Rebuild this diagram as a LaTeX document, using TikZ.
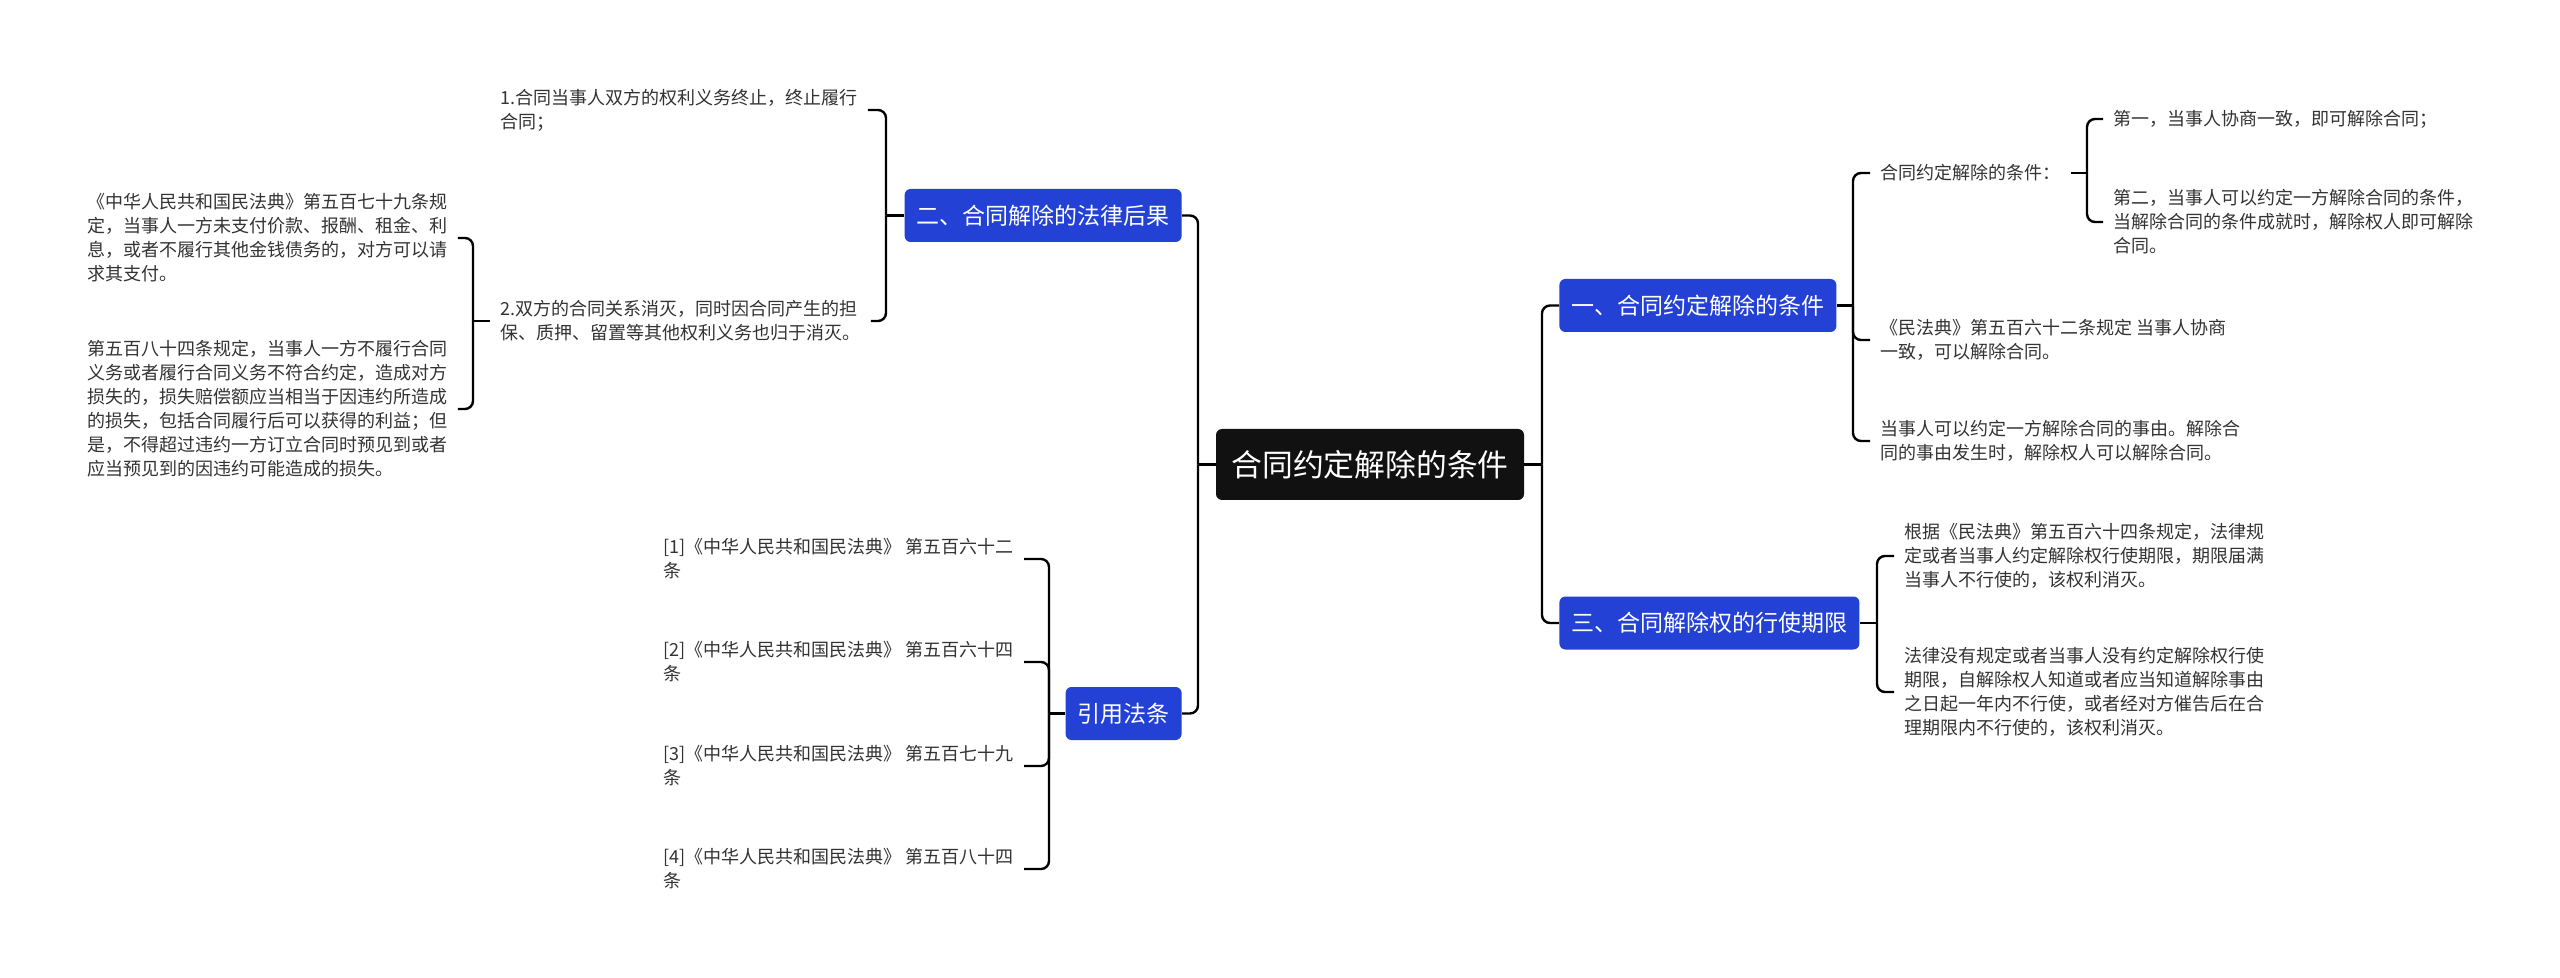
\documentclass[tikz,border=0pt]{standalone}
\usepackage{fontspec}
\setmainfont{Noto Sans CJK SC}
\usepackage{tikz}
\usepackage{xcolor}
\definecolor{boxblue}{HTML}{2441D6}
\definecolor{rootblack}{HTML}{111111}
\definecolor{txtgray}{HTML}{333333}
\tikzset{
  rootbox/.style={fill=rootblack, rounded corners=3pt, text=white, font=\fontsize{15.4}{18}\selectfont, minimum width=154pt, minimum height=35.5pt, inner sep=0pt},
  bluebox/.style={fill=boxblue, rounded corners=3pt, text=white, font=\fontsize{11.5}{14}\selectfont, inner xsep=6pt, inner ysep=0pt, minimum height=26.5pt},
  leaf/.style={text=txtgray, font=\fontsize{9}{12}\selectfont, align=left, inner xsep=5pt, inner ysep=2pt, anchor=west},
  link/.style={line width=1.2pt, black},
  curl/.style={link, rounded corners=4pt}
}

\begin{document}
\begin{tikzpicture}[x=0.5pt, y=-0.5pt]
\useasboundingbox[fill=white] (0,0) rectangle (2560,978);

% Root (node)
\node[rootbox] (root) at (1370,464.5) {合同约定解除的条件};

% Main branches (nodes)
\node[bluebox, anchor=west] (b1) at (1559,305.5) {一、合同约定解除的条件};
\node[bluebox, anchor=west] (b3) at (1559,623) {三、合同解除权的行使期限};
\node[bluebox, anchor=east] (b2) at (1182,215.5) {二、合同解除的法律后果};
\node[bluebox, anchor=east] (b4) at (1182,713.5) {引用法条};

% Junctions of the brackets
\coordinate (jr) at (1542,464.5);
\coordinate (jl) at (1198,464.5);
\coordinate (j1) at (1853,305.5);
\coordinate (j11) at (2087,173);
\coordinate (j3) at (1877,623);
\coordinate (j2) at (886,215.5);
\coordinate (jd) at (473,321);
\coordinate (j4) at (1049,713.5);

% Right side texts
\node[leaf] (c11) at (1870,173) {合同约定解除的条件：};
\node[leaf] (c12) at (1870,340) {《民法典》第五百六十二条规定 当事人协商\\一致，可以解除合同。};
\node[leaf] (c13) at (1870,441) {当事人可以约定一方解除合同的事由。解除合\\同的事由发生时，解除权人可以解除合同。};
\node[leaf] (c111) at (2103,119) {第一，当事人协商一致，即可解除合同；};
\node[leaf] (c112) at (2103,222) {第二，当事人可以约定一方解除合同的条件，\\当解除合同的条件成就时，解除权人即可解除\\合同。};
\node[leaf] (c21) at (1894,556) {根据《民法典》第五百六十四条规定，法律规\\定或者当事人约定解除权行使期限，期限届满\\当事人不行使的，该权利消灭。};
\node[leaf] (c22) at (1894,692) {法律没有规定或者当事人没有约定解除权行使\\期限，自解除权人知道或者应当知道解除事由\\之日起一年内不行使，或者经对方催告后在合\\理期限内不行使的，该权利消灭。};

% Left side texts
\node[leaf] (d1) at (490,110) {1.合同当事人双方的权利义务终止，终止履行\\合同；};
\node[leaf] (d2) at (490,321) {2.双方的合同关系消灭，同时因合同产生的担\\保、质押、留置等其他权利义务也归于消灭。};
\node[leaf] (e1) at (77,238) {《中华人民共和国民法典》第五百七十九条规\\定，当事人一方未支付价款、报酬、租金、利\\息，或者不履行其他金钱债务的，对方可以请\\求其支付。};
\node[leaf] (e2) at (77,409) {第五百八十四条规定，当事人一方不履行合同\\义务或者履行合同义务不符合约定，造成对方\\损失的，损失赔偿额应当相当于因违约所造成\\的损失，包括合同履行后可以获得的利益；但\\是，不得超过违约一方订立合同时预见到或者\\应当预见到的因违约可能造成的损失。};
\node[leaf] (r1) at (653,559) {[1]《中华人民共和国民法典》 第五百六十二\\条};
\node[leaf] (r2) at (653,662) {[2]《中华人民共和国民法典》 第五百六十四\\条};
\node[leaf] (r3) at (653,766) {[3]《中华人民共和国民法典》 第五百七十九\\条};
\node[leaf] (r4) at (653,869) {[4]《中华人民共和国民法典》 第五百八十四\\条};

% Root to branches
\draw[link] (root.east) -- (jr);
\draw[curl] (jr) |- (b1.west);
\draw[curl] (jr) |- (b3.west);
\draw[link] (root.west) -- (jl);
\draw[curl] (jl) |- (b2.east);
\draw[curl] (jl) |- (b4.east);

% Branch one
\draw[link] (b1.east) -- (j1);
\draw[curl] (j1) |- (c11.west);
\draw[curl] (j1) |- (c12.west);
\draw[curl] (j1) |- (c13.west);
\draw[link] (c11.east) -- (j11);
\draw[curl] (j11) |- (c111.west);
\draw[curl] (j11) |- (c112.west);

% Branch three
\draw[link] (b3.east) -- (j3);
\draw[curl] (j3) |- (c21.west);
\draw[curl] (j3) |- (c22.west);

% Branch two
\draw[link] (b2.west) -- (j2);
\draw[curl] (j2) |- (d1.east);
\draw[curl] (j2) |- (d2.east);
\draw[link] (d2.west) -- (jd);
\draw[curl] (jd) |- (e1.east);
\draw[curl] (jd) |- (e2.east);

% Cited articles
\draw[link] (b4.west) -- (j4);
\draw[curl] (j4) |- (r1.east);
\draw[curl] (j4) |- (r2.east);
\draw[curl] (j4) |- (r3.east);
\draw[curl] (j4) |- (r4.east);
\end{tikzpicture}
\end{document}
